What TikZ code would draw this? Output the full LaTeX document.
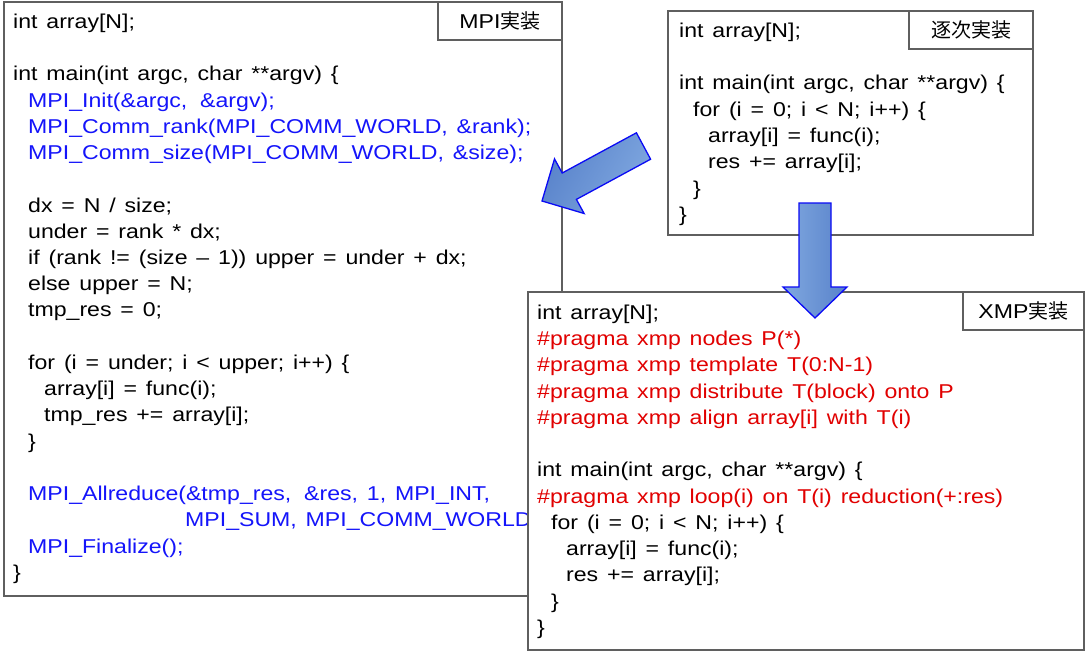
\documentclass[tikz,border=0pt]{standalone}
\usepackage{fontspec}
\newfontfamily\codefont[FakeStretch=1.155,WordSpace=1.38]{Liberation Sans}
\newfontfamily\cjk{Noto Sans CJK JP}
\definecolor{boxgray}{RGB}{95,95,95}
\definecolor{codeblue}{RGB}{20,20,250}
\definecolor{codered}{RGB}{225,0,0}
\definecolor{arrowL}{RGB}{128,168,224}
\definecolor{arrowR}{RGB}{88,130,202}
\definecolor{arrowline}{RGB}{10,10,245}
\tikzset{
  codebox/.style={draw=boxgray, line width=1.4pt, fill=white, anchor=north west, inner sep=0pt, outer sep=0pt},
  lblbox/.style={draw=boxgray, line width=1.4pt, fill=white, anchor=north east, inner sep=0pt, outer sep=0pt, font=\codefont\fontsize{20}{24}\selectfont},
  code/.style={anchor=base west, inner sep=0pt, font=\codefont\fontsize{20}{24}\selectfont},
  bl/.style={code, text=codeblue},
  rd/.style={code, text=codered},
  blockarrow/.style={draw=arrowline, line width=1.3pt, line join=miter}
}
\begin{document}
\begin{tikzpicture}[x=1pt,y=-1pt]
\useasboundingbox (0,0) rectangle (1086,653);
\fill[white] (0,0) rectangle (1086,653);

% ---------- MPI box ----------
\node[codebox, minimum width=558pt, minimum height=594pt] (mpi) at (4,2) {};
\node[lblbox, minimum width=124pt, minimum height=38pt] (mpilbl) at (mpi.north east) {MPI{\cjk 実装}};
\node[code] (m1) at (13,28.3) {int array[N];};
\node[code] (m3) at (13,80.8) {int main(int argc, char **argv) \{};
\node[bl] (m4) at (28,107.0) {MPI\_Init(\&argc,\hspace{4pt} \&argv);};
\node[bl] (m5) at (28,133.3) {MPI\_Comm\_rank(MPI\_COMM\_WORLD, \&rank);};
\node[bl] (m6) at (28,159.5) {MPI\_Comm\_size(MPI\_COMM\_WORLD, \&size);};
\node[code] (m8) at (28,212.0) {dx = N / size;};
\node[code] (m9) at (28,238.2) {under = rank * dx;};
\node[code] (m10) at (28,264.5) {if (rank != (size – 1)) upper = under + dx;};
\node[code] (m11) at (28,290.7) {else upper = N;};
\node[code] (m12) at (28,316.9) {tmp\_res = 0;};
\node[code] (m14) at (28,369.4) {for (i = under; i < upper; i++) \{};
\node[code] (m15) at (44,395.6) {array[i] = func(i);};
\node[code] (m16) at (44,421.9) {tmp\_res += array[i];};
\node[code] (m17) at (28,448.1) {\}};
\node[bl] (m19) at (28,500.6) {MPI\_Allreduce(\&tmp\_res,\hspace{4pt} \&res, 1, MPI\_INT,};
\node[bl] (m20) at (185,526.8) {MPI\_SUM, MPI\_COMM\_WORLD);};
\node[bl] (m21) at (28,553.1) {MPI\_Finalize();};
\node[code] (m22) at (13,579.3) {\}};

% ---------- arrow to MPI ----------
\path[blockarrow, left color=arrowR, right color=arrowL, shading angle=60]
  (650.6,159.2) -- (576.4,199.4) -- (584.1,213.5) -- (542,201) -- (554.5,158.9) -- (562.2,173.0) -- (636.4,132.8) -- cycle;

% ---------- sequential box ----------
\node[codebox, minimum width=365pt, minimum height=224pt] (seq) at (668,11) {};
\node[lblbox, minimum width=124pt, minimum height=38pt] (seqlbl) at (seq.north east) {\cjk 逐次実装};
\node[code] (s1) at (679,37.3) {int array[N];};
\node[code] (s3) at (679,89.9) {int main(int argc, char **argv) \{};
\node[code] (s4) at (693,116.2) {for (i = 0; i < N; i++) \{};
\node[code] (s5) at (708,142.5) {array[i] = func(i);};
\node[code] (s6) at (708,168.8) {res += array[i];};
\node[code] (s7) at (693,195.1) {\}};
\node[code] (s8) at (679,221.4) {\}};

% ---------- XMP box ----------
\node[codebox, minimum width=556pt, minimum height=358pt] (xmp) at (528,292) {};
\node[lblbox, minimum width=121pt, minimum height=38pt] (xmplbl) at (xmp.north east) {XMP{\cjk 実装}};
\node[code] (x1) at (537,319.3) {int array[N];};
\node[rd] (x2) at (537,345.5) {\#pragma xmp nodes P(*)};
\node[rd] (x3) at (537,371.8) {\#pragma xmp template T(0:N-1)};
\node[rd] (x4) at (537,398.0) {\#pragma xmp distribute T(block) onto P};
\node[rd] (x5) at (537,424.3) {\#pragma xmp align array[i] with T(i)};
\node[code] (x7) at (537,476.8) {int main(int argc, char **argv) \{};
\node[rd] (x8) at (537,503.0) {\#pragma xmp loop(i) on T(i) reduction(+:res)};
\node[code] (x9) at (551,529.3) {for (i = 0; i < N; i++) \{};
\node[code] (x10) at (566,555.5) {array[i] = func(i);};
\node[code] (x11) at (566,581.8) {res += array[i];};
\node[code] (x12) at (551,608.0) {\}};
\node[code] (x13) at (537,634.3) {\}};

% ---------- arrow to XMP ----------
\path[blockarrow, left color=arrowL, right color=arrowR]
  (799,203) -- (799,287) -- (783,287) -- (815,318) -- (847,287) -- (831,287) -- (831,203) -- cycle;
\end{tikzpicture}
\end{document}
